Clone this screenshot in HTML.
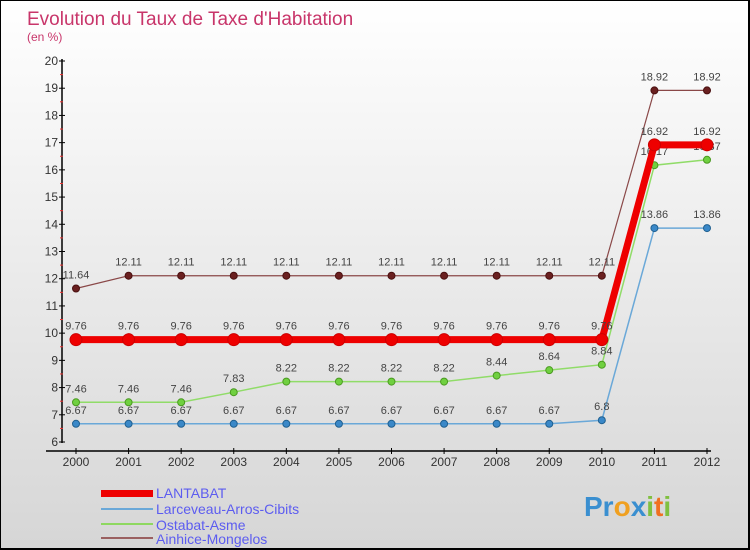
<!DOCTYPE html>
<html><head><meta charset="utf-8"><style>
body{margin:0;}
#c{width:750px;height:550px;position:relative;box-sizing:border-box;border:1px solid #000;border-bottom:2px solid #000;border-right:2px solid #000;background:linear-gradient(#fff,#d6d6d6);font-family:"Liberation Sans",sans-serif;overflow:hidden}
svg text{font-family:"Liberation Sans",sans-serif}
</style></head><body>
<div id="c">
<svg id="s" width="750" height="550">
<text x="26" y="24" font-size="19" fill="#c8356a">Evolution du Taux de Taxe d'Habitation</text>
<text x="26" y="40" font-size="12" fill="#c8356a">(en %)</text>
<g id="ax"></g><g id="ser"></g>
<g>
<rect x="100" y="489" width="52" height="7" fill="#e00"/>
<text x="155" y="497" font-size="14" fill="#5c5cf0">LANTABAT</text>
<line x1="100" y1="508" x2="152" y2="508" stroke="#6aa8d8" stroke-width="2"/>
<text x="155" y="513" font-size="14" fill="#5c5cf0">Larceveau-Arros-Cibits</text>
<line x1="100" y1="523" x2="152" y2="523" stroke="#8ed860" stroke-width="2"/>
<text x="155" y="529" font-size="14" fill="#5c5cf0">Ostabat-Asme</text>
<line x1="100" y1="537" x2="152" y2="537" stroke="#9a6060" stroke-width="2"/>
<text x="155" y="543" font-size="14" fill="#5c5cf0">Ainhice-Mongelos</text>
</g>
<g font-size="28" font-weight="bold">
<text x="583" y="515"><tspan fill="#3a8fd0">Pr</tspan><tspan fill="#f0a020">o</tspan><tspan fill="#3a8fd0">x</tspan><tspan fill="#80c040">i</tspan><tspan fill="#f07020">t</tspan><tspan fill="#80c040">i</tspan></text>
</g>
</svg>
</div>
<script>
const years=["2000","2001","2002","2003","2004","2005","2006","2007","2008","2009","2010","2011","2012"];
const yTicks=[6,7,8,9,10,11,12,13,14,15,16,17,18,19,20];
const lantabat=[9.76,9.76,9.76,9.76,9.76,9.76,9.76,9.76,9.76,9.76,9.76,16.92,16.92];
const larceveau=[6.67,6.67,6.67,6.67,6.67,6.67,6.67,6.67,6.67,6.67,6.8,13.86,13.86];
const ostabat=[7.46,7.46,7.46,7.83,8.22,8.22,8.22,8.22,8.44,8.64,8.84,16.17,16.37];
const ainhice=[11.64,12.11,12.11,12.11,12.11,12.11,12.11,12.11,12.11,12.11,12.11,18.92,18.92];
const NS="http://www.w3.org/2000/svg";
const X=i=>75+i*(706-75)/(years.length-1);
const Y=v=>441-(v-6)*(441-60)/14;
function mk(t,a,p){const e=document.createElementNS(NS,t);for(const k in a)e.setAttribute(k,a[k]);p.appendChild(e);return e;}
const ax=document.getElementById('ax'),ser=document.getElementById('ser');
let yl=mk('line',{x1:61,y1:58,x2:61,y2:442,stroke:'#000','stroke-width':1.5},ax);


let xl=mk('line',{x1:45,y1:450,x2:710,y2:450,stroke:'#000','stroke-width':1.5},ax);


yTicks.forEach(v=>{
 mk('line',{x1:58,y1:Y(v),x2:64,y2:Y(v),stroke:'#000'},ax);
 if(v<20)mk('line',{x1:59,y1:Y(v+0.5),x2:62,y2:Y(v+0.5),stroke:'#e33'},ax);
 const t=mk('text',{x:57,y:Y(v)+4,'font-size':12,fill:'#333','text-anchor':'end'},ax);t.textContent=v;
 
 
});
years.forEach((y,i)=>{
 mk('line',{x1:X(i),y1:447,x2:X(i),y2:453,stroke:'#000'},ax);
 const t=mk('text',{x:X(i),y:465,'font-size':12,fill:'#333','text-anchor':'middle'},ax);t.textContent=y;
 
 
});
function series(d,name,col,w,r,dot,dotStroke){
 const g=mk('g',{},ser);
 
 
 mk('polyline',{points:d.map((v,i)=>X(i)+','+Y(v)).join(' '),fill:'none',stroke:col,'stroke-width':w},g);
 d.forEach((v,i)=>{
  const c=mk('circle',{cx:X(i),cy:Y(v),r:r,fill:dot,stroke:dotStroke,'stroke-width':1},g);
  
  
  const t=mk('text',{x:X(i),y:Y(v)-10,'font-size':11,fill:'#444','text-anchor':'middle'},g);
  t.textContent=v;
  
  
 });
}
series(ainhice,'ainhice','#8a4848',1.2,3.5,'#6a2020','#4a1010');
series(ostabat,'ostabat','#90dc68',1.5,3.5,'#70d040','#4a9a20');
series(larceveau,'larceveau','#6aa8d8',1.5,3.5,'#3a88c8','#206090');
series(lantabat,'lantabat','#ee0000',7,6,'#ee0000','#c00');
</script>
</body></html>
